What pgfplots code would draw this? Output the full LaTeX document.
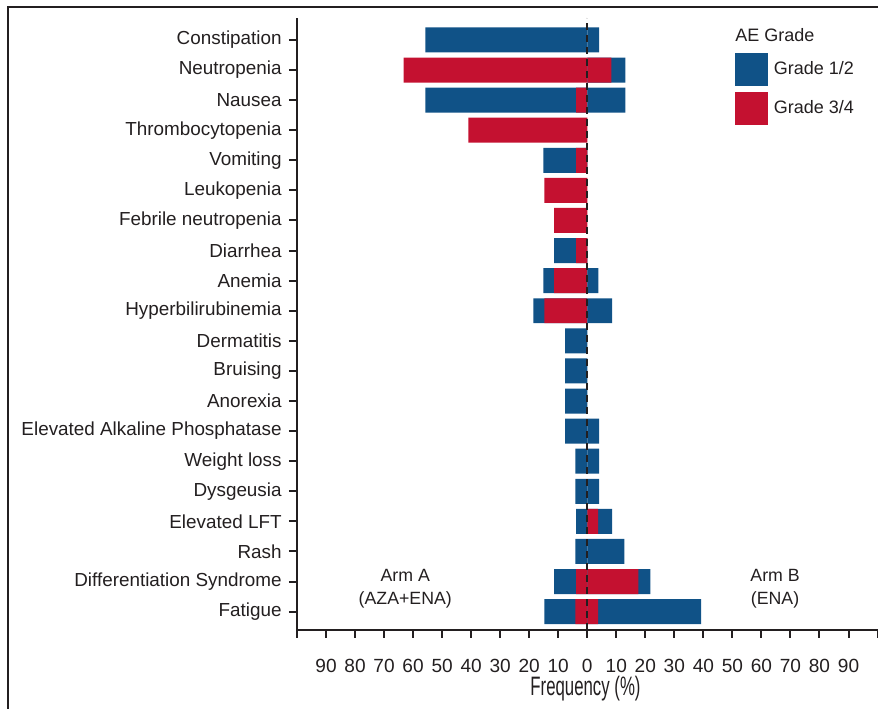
\documentclass[border=0pt]{standalone}
\usepackage{pgfplots}
\pgfplotsset{compat=1.18}
\usepackage{fontspec}
\setmainfont{Liberation Sans}
\usepackage{graphicx}
\definecolor{gblue}{RGB}{16,82,135}
\definecolor{gred}{RGB}{196,17,48}
\definecolor{txt}{RGB}{35,31,32}
\begin{document}
\begin{tikzpicture}
\begin{axis}[
  scale only axis, width=435.4pt, height=459pt,
  xmin=-100, xmax=100, ymin=-0.61, ymax=19.73,
  axis lines*=left,
  axis line style={line width=1.5pt, txt},
  xtick={-100,-90,-80,-70,-60,-50,-40,-30,-20,-10,0,10,20,30,40,50,60,70,80,90,100},
  xticklabels={,90,80,70,60,50,40,30,20,10,0,10,20,30,40,50,60,70,80,90,},
  ytick={0,...,19},
  yticklabels={Fatigue,Differentiation Syndrome,Rash,Elevated LFT,Dysgeusia,Weight loss,Elevated Alkaline Phosphatase,Anorexia,Bruising,Dermatitis,Hyperbilirubinemia,Anemia,Diarrhea,Febrile neutropenia,Leukopenia,Vomiting,Thrombocytopenia,Nausea,Neutropenia,Constipation},
  tick align=outside,
  major tick length=6pt,
  tick style={line width=1.5pt, txt},
  xticklabel style={font=\fontsize{14.3}{16}\selectfont, text=txt, yshift=-12pt},
  yticklabel style={font=\fontsize{14.15}{16}\selectfont, text=txt, xshift=-2pt},
  xlabel={\scalebox{0.63}[1]{Frequency (\%)}},
  xlabel style={font=\fontsize{20}{22}\selectfont, text=txt, at={(rel axis cs:0.497,0)}, anchor=base, yshift=-49.5pt},
  legend style={at={(axis cs:50.9,18.57)}, anchor=north west, draw=none, fill=none,
    inner sep=0pt, row sep=4.5pt, column sep=4.5pt,
    font=\fontsize{13.5}{16}\selectfont, text=txt, nodes={inner sep=0pt}},
  legend cell align=left,
]
% Arm A (left, negative): outer extent of all grades, then grade 3/4 on top
\addplot[xbar, bar width=0.83, bar shift=0pt, fill=gblue, draw=none, forget plot] coordinates {
 (-55.8,19) (-55.8,17) (-15.1,15) (-11.4,12) (-15.1,11) (-18.6,10)
 (-7.6,9) (-7.6,8) (-7.6,7) (-7.6,6) (-4.1,5) (-4.1,4) (-3.8,3) (-4.1,2)
 (-11.4,1) (-14.8,0)};
\addplot[xbar, bar width=0.83, bar shift=0pt, fill=gred, draw=none, forget plot] coordinates {
 (-63.3,18) (-3.8,17) (-41.0,16) (-3.8,15) (-14.8,14) (-11.4,13) (-3.8,12)
 (-11.4,11) (-14.8,10) (-3.8,1) (-4.1,0)};
% Arm B (right, positive)
\addplot[xbar, bar width=0.83, bar shift=0pt, fill=gblue, draw=none, forget plot] coordinates {
 (4.1,19) (13.1,18) (13.1,17) (3.8,11) (8.6,10) (4.1,6) (4.1,5) (4.1,4)
 (8.6,3) (12.8,2) (21.7,1) (39.2,0)};
\addplot[xbar, bar width=0.83, bar shift=0pt, fill=gred, draw=none, forget plot] coordinates {
 (8.3,18) (3.7,3) (17.6,1) (3.7,0)};
% reference line at zero
\addplot[sharp plot, no marks, txt, line width=1.8pt, dash pattern=on 5.25pt off 3.75pt, forget plot] coordinates {(0,-0.61) (0,19.73)};
\addlegendimage{legend image code/.code={\fill[gblue] (0pt,-12pt) rectangle (24pt,12pt);}}
\addlegendentry{Grade 1/2}
\addlegendimage{legend image code/.code={\fill[gred] (0pt,-12pt) rectangle (24pt,12pt);}}
\addlegendentry{Grade 3/4}
\node[anchor=west, inner sep=0pt, font=\fontsize{13.5}{16}\selectfont, text=txt] at (axis cs:50.9,19.17) {AE Grade};
\node[align=center, font=\fontsize{13.3}{17.25}\selectfont, text=txt] at (axis cs:-62.7,0.75) {Arm A\\(AZA+ENA)};
\node[align=center, font=\fontsize{13.3}{17.25}\selectfont, text=txt] at (axis cs:64.7,0.75) {Arm B\\(ENA)};
\end{axis}
\draw[line width=1pt, txt] (-216.75pt,-70pt) -- (-216.75pt,467.25pt) -- (450pt,467.25pt);
\pgfresetboundingbox
\path[use as bounding box] (-222.75pt,-59.25pt) rectangle (435.75pt,472.5pt);
\end{tikzpicture}
\end{document}
